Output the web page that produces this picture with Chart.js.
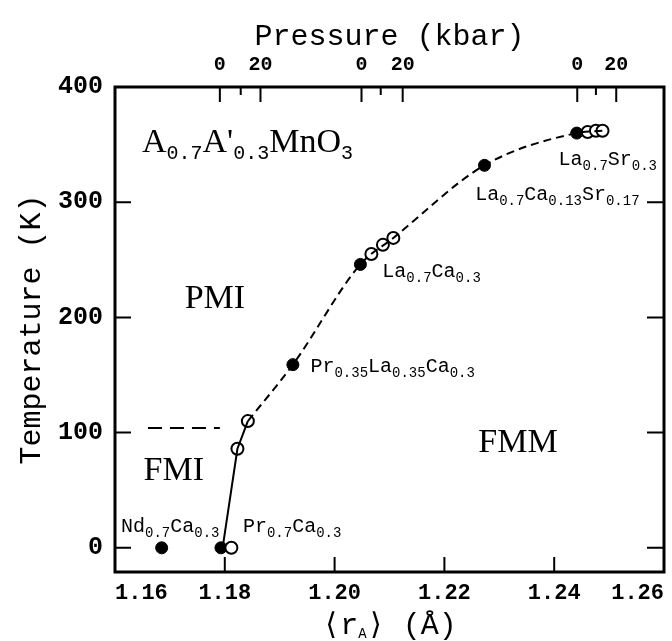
<!DOCTYPE html>
<html>
<head>
<meta charset="utf-8">
<title>A0.7A'0.3MnO3 phase diagram</title>
<script src="https://cdn.jsdelivr.net/npm/chart.js@4.4.1/dist/chart.umd.min.js"></script>
<style>
  html, body { margin: 0; padding: 0; background: #fff; }
  #wrap { width: 672px; height: 641px; position: relative; }
</style>
</head>
<body>
<div id="wrap"><canvas id="phaseChart"></canvas></div>
<script>
// Values: <r_A> in Angstrom, temperature in K

// filled symbols (ambient pressure)
const filledR = [1.1685, 1.1793, 1.1924, 1.2047, 1.2273, 1.2441];
const filledT = [0, 0, 159, 246, 332, 360];

// open symbols (under pressure)
const openR = [1.1812, 1.1823, 1.1842, 1.2067, 1.2088, 1.2107, 1.2461, 1.2476, 1.2488];
const openT = [0, 86, 110, 255, 263, 269, 361, 362, 362];

// FMI / FMM boundary, solid bottom part and dashed upper part
const solidR = [1.1796, 1.1823, 1.1842];
const solidT = [0, 86, 110];
const dashR = [1.1842, 1.1924, 1.2047, 1.2107, 1.2273, 1.2441, 1.2488];
const dashT = [110, 159, 246, 269, 332, 360, 362];

// FMI / PMI boundary
const fmiR = [1.166, 1.1791];
const fmiT = [104, 104];

// axis ticks
const xTicks = [1.16, 1.18, 1.20, 1.22, 1.24, 1.26];
const yTicks = [0, 100, 200, 300, 400];

// pressure axis: 0, 10 and 20 kbar for each compound
const pressureR = [1.1791, 1.1829, 1.1865, 1.2049, 1.2084, 1.2124, 1.2442, 1.2476, 1.2513];
const pressureLabels = ['0', '', '20', '0', '', '20', '0', '', '20'];

// compound names next to the filled symbols
const compoundNames = ['Nd_{0.7}Ca_{0.3}', 'Pr_{0.7}Ca_{0.3}', 'Pr_{0.35}La_{0.35}Ca_{0.3}',
  'La_{0.7}Ca_{0.3}', 'La_{0.7}Ca_{0.13}Sr_{0.17}', 'La_{0.7}Sr_{0.3}'];

const MONO = "'Liberation Mono', 'DejaVu Sans Mono', monospace";
const SERIF = "'Liberation Serif', 'DejaVu Serif', serif";

function toPoints(xs, ys) {
    return xs.map(function(v, i) { return { x: v, y: ys[i] }; });
}

// draw text like "La_{0.7}Ca_{0.3}" with lowered subscripts
function drawRich(ctx, text, x, y, mainFont, subFont, drop, align) {
    const parts = [];
    text.split(/(_\{[^}]*\})/).forEach(function(p) {
        if (!p) return;
        if (p.indexOf('_{') === 0) parts.push({ t: p.slice(2, -1), sub: true });
        else parts.push({ t: p, sub: false });
    });
    let width = 0;
    parts.forEach(function(p) {
        ctx.font = p.sub ? subFont : mainFont;
        p.w = ctx.measureText(p.t).width;
        width += p.w;
    });
    let cx = align === 'center' ? x - width / 2 : x;
    ctx.textAlign = 'left';
    ctx.textBaseline = 'alphabetic';
    parts.forEach(function(p) {
        ctx.font = p.sub ? subFont : mainFont;
        ctx.fillText(p.t, cx, p.sub ? y + drop : y);
        cx += p.w;
    });
}

// label anchors, left/baseline (compounds) or centre/baseline (phases)
const compoundAnchors = [[1.1611, 14], [1.1833, 14], [1.1956, 153], [1.2087, 235], [1.2256, 302], [1.2408, 332]];
const phaseLabels = [['PMI', 1.1782, 208], ['FMI', 1.1707, 59], ['FMM', 1.2334, 83]];

const phaseDecor = {
    id: 'phaseDecor',
    afterDraw: function(chart) {
        const ctx = chart.ctx;
        const a = chart.chartArea;
        const x = chart.scales.x, x2 = chart.scales.x2, y = chart.scales.y;
        ctx.save();
        ctx.strokeStyle = '#000';
        ctx.fillStyle = '#000';

        // frame
        ctx.lineWidth = 3;
        ctx.strokeRect(a.left, a.top, a.right - a.left, a.bottom - a.top);

        // inward tick marks
        ctx.lineWidth = 2;
        ctx.beginPath();
        y.ticks.forEach(function(t) {
            const py = y.getPixelForValue(t.value);
            ctx.moveTo(a.left, py); ctx.lineTo(a.left + 16, py);
            ctx.moveTo(a.right, py); ctx.lineTo(a.right - 17, py);
        });
        x.ticks.forEach(function(t) {
            const px = x.getPixelForValue(t.value);
            ctx.moveTo(px, a.bottom); ctx.lineTo(px, a.bottom - 15);
        });
        x2.ticks.forEach(function(t, i) {
            const px = x2.getPixelForValue(t.value);
            ctx.moveTo(px, a.top); ctx.lineTo(px, a.top + (pressureLabels[i] ? 15 : 8));
        });
        ctx.stroke();

        // compound names
        compoundNames.forEach(function(name, i) {
            drawRich(ctx, name, x.getPixelForValue(compoundAnchors[i][0]), y.getPixelForValue(compoundAnchors[i][1]),
                '20px ' + MONO, '14px ' + MONO, 5, 'left');
        });

        // phase regions
        ctx.font = '34px ' + SERIF;
        ctx.textAlign = 'center';
        phaseLabels.forEach(function(p) {
            ctx.fillText(p[0], x.getPixelForValue(p[1]), y.getPixelForValue(p[2]));
        });

        // formula
        drawRich(ctx, "A_{0.7}A'_{0.3}MnO_{3}", x.getPixelForValue(1.1649), y.getPixelForValue(344),
            '34px ' + SERIF, '20px ' + MONO, 7, 'left');

        // bottom axis title <r_A> (A)
        const cx = (a.left + a.right) / 2;
        ctx.font = '30px ' + MONO;
        const w1 = ctx.measureText('\u27e8r').width;
        const w3 = ctx.measureText('\u27e9 (\u00c5)').width;
        ctx.font = '14px ' + MONO;
        const w2 = ctx.measureText('A').width;
        let sx = cx - (w1 + w2 + w3) / 2;
        ctx.textAlign = 'left';
        ctx.font = '30px ' + MONO;
        ctx.fillText('\u27e8r', sx, 634);
        ctx.font = '14px ' + MONO;
        ctx.fillText('A', sx + w1, 638);
        ctx.font = '30px ' + MONO;
        ctx.fillText('\u27e9 (\u00c5)', sx + w1 + w2, 634);

        ctx.restore();
    }
};

new Chart(document.getElementById('phaseChart'), {
    type: 'scatter',
    data: {
        datasets: [
            {
                type: 'line',
                data: toPoints(solidR, solidT),
                borderColor: '#000',
                borderWidth: 2,
                pointRadius: 0,
                fill: false
            },
            {
                type: 'line',
                data: toPoints(dashR, dashT),
                borderColor: '#000',
                borderWidth: 2,
                borderDash: [8, 5],
                cubicInterpolationMode: 'monotone',
                pointRadius: 0,
                fill: false
            },
            {
                type: 'line',
                data: toPoints(fmiR, fmiT),
                borderColor: '#000',
                borderWidth: 2,
                borderDash: [14, 8],
                pointRadius: 0,
                fill: false
            },
            {
                data: toPoints(openR, openT),
                pointRadius: 6,
                pointBorderWidth: 2,
                backgroundColor: '#fff',
                borderColor: '#000'
            },
            {
                data: toPoints(filledR, filledT),
                pointRadius: 6,
                backgroundColor: '#000',
                borderColor: '#000'
            }
        ]
    },
    options: {
        responsive: true,
        maintainAspectRatio: false,
        animation: false,
        layout: { padding: { right: 7 } },
        plugins: {
            legend: { display: false },
            tooltip: { enabled: false }
        },
        scales: {
            x: {
                type: 'linear',
                position: 'bottom',
                min: 1.16,
                max: 1.26,
                afterBuildTicks: function(s) { s.ticks = xTicks.map(function(v) { return { value: v }; }); },
                afterFit: function(s) { s.height = 69; },
                grid: { display: false, drawTicks: false },
                border: { display: false },
                ticks: {
                    align: 'inner',
                    padding: 8,
                    autoSkip: false,
                    maxRotation: 0,
                    color: '#000',
                    font: { family: MONO, size: 22, weight: 'bold' },
                    callback: function(v) { return v.toFixed(2); }
                }
            },
            x2: {
                type: 'linear',
                position: 'top',
                min: 1.16,
                max: 1.26,
                afterBuildTicks: function(s) { s.ticks = pressureR.map(function(v) { return { value: v }; }); },
                afterFit: function(s) { s.height = 87; },
                grid: { display: false, drawTicks: false },
                border: { display: false },
                ticks: {
                    padding: 10,
                    autoSkip: false,
                    maxRotation: 0,
                    color: '#000',
                    font: { family: MONO, size: 20, weight: 'bold' },
                    callback: function(v, i) { return pressureLabels[i]; }
                },
                title: {
                    display: true,
                    text: 'Pressure (kbar)',
                    color: '#000',
                    padding: { top: 19 },
                    font: { family: MONO, size: 30 }
                }
            },
            y: {
                type: 'linear',
                min: -21,
                max: 400,
                afterBuildTicks: function(s) { s.ticks = yTicks.map(function(v) { return { value: v }; }); },
                afterFit: function(s) { s.width = 115; },
                grid: { display: false, drawTicks: false },
                border: { display: false },
                ticks: {
                    padding: 12,
                    color: '#000',
                    font: { family: MONO, size: 25, weight: 'bold' }
                },
                title: {
                    display: true,
                    text: 'Temperature (K)',
                    color: '#000',
                    padding: { top: 14 },
                    font: { family: MONO, size: 30 }
                }
            }
        }
    },
    plugins: [phaseDecor]
});
</script>
</body>
</html>
